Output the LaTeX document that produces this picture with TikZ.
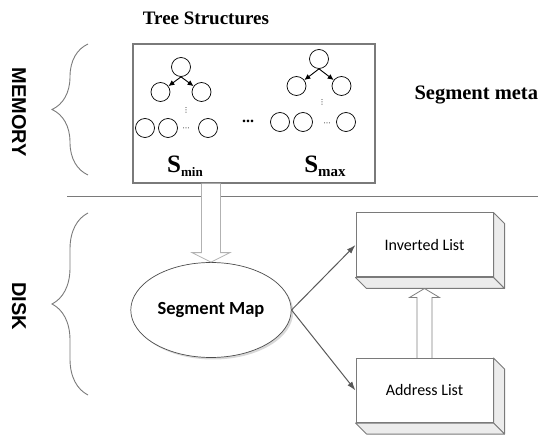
\documentclass[tikz,border=0pt]{standalone}
\usepackage{fontspec}
\setmainfont{Liberation Serif}
\newfontfamily\headfont{Liberation Sans}
\newfontfamily\listfont{Carlito}
\newfontfamily\symfont{DejaVu Sans}
\usepackage{xcolor}
\usetikzlibrary{positioning}
\usetikzlibrary{shadows}
\usetikzlibrary{shapes.geometric,decorations.pathreplacing,calc,arrows.meta}
\definecolor{rimgray}{HTML}{7A7A7A}
\definecolor{sidegray}{HTML}{ECECEC}

\begin{document}
\begin{tikzpicture}[x=1pt, y=-1pt,
      type-seg/.style={circle, draw=black, line width=0.7pt, minimum size=19pt, inner sep=0pt},
      type-store/.style={rectangle, draw=rimgray, line width=1.3pt, minimum width=242pt, minimum height=139pt},
      type-map/.style={ellipse, draw=black!70, line width=0.7pt, fill=white, minimum width=148pt, minimum height=95pt,
        drop shadow={shadow xshift=2pt, shadow yshift=-2pt, fill=black!30, opacity=0.5},
        font=\listfont\bfseries\fontsize{18.5}{18.5}\selectfont},
      type-list/.style={rectangle, draw=rimgray, line width=1pt, fill=white, minimum width=137pt, minimum height=64pt,
        font=\listfont\fontsize{16}{16}\selectfont},
      type-side/.style={draw=rimgray, fill=sidegray, line width=1pt, line join=round},
      type-brace/.style={draw=rimgray, line width=0.9pt, decorate, decoration={brace, amplitude=36pt}},
      type-layer/.style={rotate=-90, font=\headfont\bfseries\fontsize{20}{20}\selectfont},
      type-title/.style={font=\bfseries\fontsize{19}{19}\selectfont},
      type-dots/.style={font=\symfont\fontsize{7}{7}\selectfont, inner sep=0pt},
      type-hollow/.style={fill=white, line width=0.8pt, line join=miter},
      every child/.style={-{Latex[length=6pt,width=5.5pt]}, line width=0.9pt},
      edge from parent path={(\tikzparentnode.south) -- (\tikzchildnode)}
    ]
      \useasboundingbox (0,0) rectangle (541,438);

      % memory part
      \node[type-title] (title) at (206,18) {Tree Structures};
      \node[type-store] (store) at (254,113.5) {};
      \node[type-title, font=\bfseries\fontsize{20.5}{20.5}\selectfont, anchor=base west] (meta) at (411,99.5) {Segment meta};

      \begin{scope}[level 1/.style={level distance=25pt, sibling distance=41pt}]
      \node[type-seg] (lroot) at (181,67) {}
        child {node[type-seg] (lleft) {}}
        child {node[type-seg] (lright) {}};
      \end{scope}
      \node[type-dots] (lvdots) at (186,110) {⋮};
      \node[type-seg] (lfirst) at (145,128) {};
      \node[type-seg] (lsecond) at (168,128) {};
      \node[type-dots] (ldots) at (186,129) {⋯};
      \node[type-seg] (llast) at (208,128) {};

      \node[font=\bfseries\fontsize{16}{16}\selectfont, anchor=base] (mid) at (248,123) {...};

      \begin{scope}[level 1/.style={level distance=27pt, sibling distance=45pt}]
      \node[type-seg] (rroot) at (319,59) {}
        child {node[type-seg] (rleft) {}}
        child {node[type-seg] (rright) {}};
      \end{scope}
      \node[type-dots] (rvdots) at (322,102) {⋮};
      \node[type-seg] (rfirst) at (280,122) {};
      \node[type-seg] (rsecond) at (303,122) {};
      \node[type-dots] (rdots) at (327,124) {⋯};
      \node[type-seg] (rlast) at (346,122) {};

      \node[anchor=base] (smin) at (185,173) {\bfseries\fontsize{25}{25}\selectfont S\raisebox{-4pt}{\fontsize{13}{13}\selectfont min}};
      \node[anchor=base] (smax) at (325,173) {\bfseries\fontsize{25}{25}\selectfont S\raisebox{-4pt}{\fontsize{15}{15}\selectfont max}};

      % layers
      \draw[rimgray, line width=1pt] (67,197) -- (538,197);
      \draw[type-brace] (88,175) -- (88,44);
      \draw[type-brace] (88,395) -- (88,213);
      \node[type-layer] (memory) at (19,112) {MEMORY};
      \node[type-layer] (disk) at (19,306) {DISK};

      % disk part
      \node[type-map] (smap) at (211,310) {Segment Map};
      \node[type-list] (inv) at (424.5,245) {Inverted List};
      \node[type-list] (addr) at (424.5,390.5) {Address List};
      \foreach \b in {inv,addr} {
        \draw[type-side] (\b.north east) -- ++(11,11) -- ($(\b.south east)+(11,11)$) -- (\b.south east) -- cycle;
        \draw[type-side] (\b.south west) -- ++(11,11) -- ($(\b.south east)+(11,11)$) -- (\b.south east) -- cycle;
      }

      \draw[type-hollow, draw=black!30] ($(store.south -| smap.north)+(-9.5,0)$) -- ($(smap.north)+(-9.5,-9.5)$)
        -- ($(smap.north)+(-19,-9.5)$) -- (smap.north) -- ($(smap.north)+(19,-9.5)$)
        -- ($(smap.north)+(9.5,-9.5)$) -- ($(store.south -| smap.north)+(9.5,0)$);
      \draw[type-hollow, draw=black!50] ($(addr.north)+(-7.5,0)$) -- ($(inv.south)+(-7.5,20)$)
        -- ($(inv.south)+(-15,20)$) -- ($(inv.south)+(0,11)$) -- ($(inv.south)+(15,20)$)
        -- ($(inv.south)+(7.5,20)$) -- ($(addr.north)+(7.5,0)$);

      \draw[-{Latex[length=9pt,width=6pt]}, draw=black!65, line width=1pt] (smap.east) -- (inv.west);
      \draw[-{Latex[length=9pt,width=6pt]}, draw=black!65, line width=1pt] (smap.east) -- (addr.west);
    \end{tikzpicture}
\end{document}
